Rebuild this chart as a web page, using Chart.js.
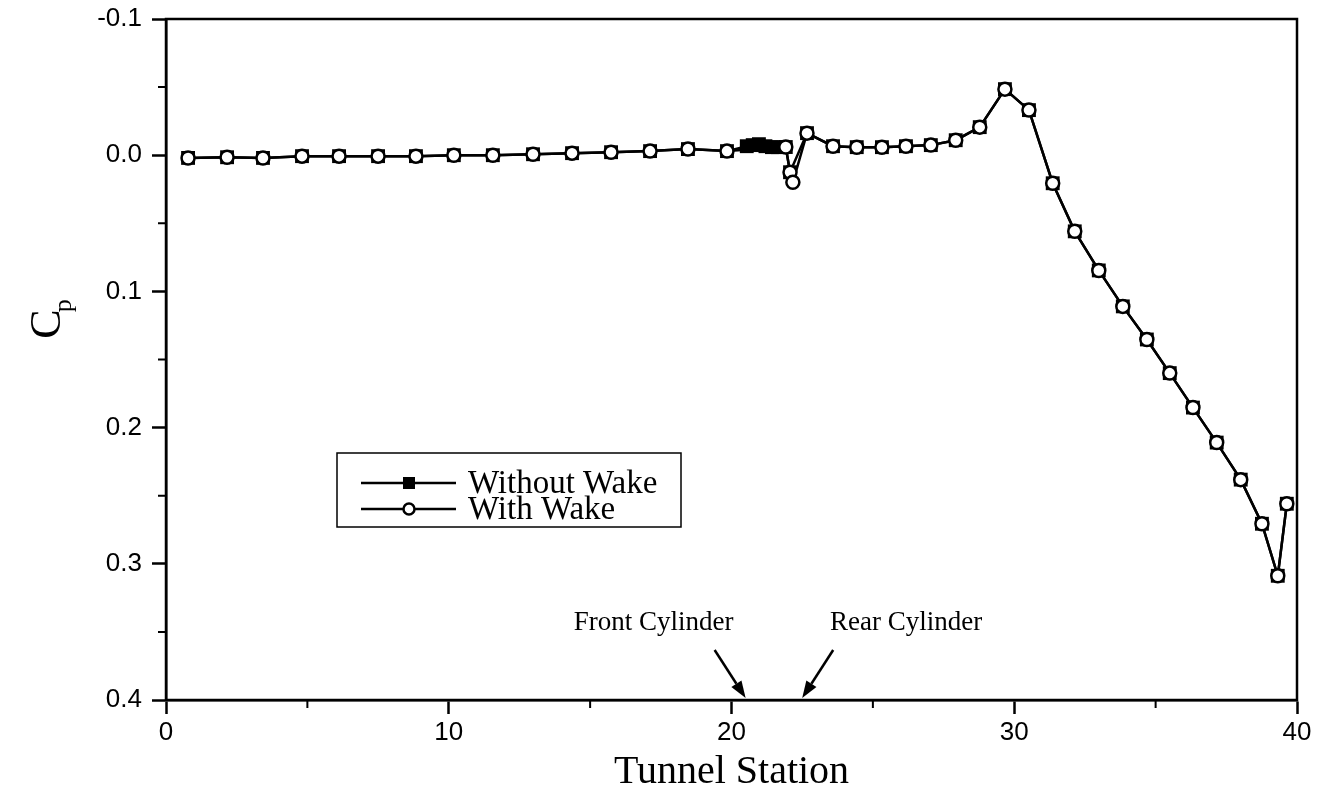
<!DOCTYPE html>
<html>
<head>
<meta charset="utf-8">
<title>Cp along tunnel</title>
<script src="https://cdn.jsdelivr.net/npm/chart.js@4.4.1/dist/chart.umd.min.js"></script>
<style>
  html, body { margin: 0; padding: 0; background: #fff; }
  #cpChart { display: block; }
</style>
</head>
<body>
<canvas id="cpChart" width="1317" height="805"></canvas>
<script>
// -------------------------------
// Data (tunnel station vs pressure coefficient)
// -------------------------------
const withWakeStations = [
  0.78, 2.16, 3.43, 4.81, 6.12, 7.50, 8.84, 10.18, 11.56, 12.98, 14.36, 15.74,
  17.12, 18.46, 19.84, 21.92, 22.07, 22.17, 22.67, 23.59, 24.43, 25.32, 26.17,
  27.05, 27.93, 28.78, 29.67, 30.52, 31.36, 32.14, 32.99, 33.84, 34.69, 35.50,
  36.32, 37.16, 38.01, 38.76, 39.32, 39.64
];
const withWakeCp = [
  0.002, 0.0015, 0.002, 0.0007, 0.0007, 0.0007, 0.0007, 0.0, 0.0, -0.0007,
  -0.0015, -0.0022, -0.003, -0.0045, -0.003, -0.006, 0.0125, 0.0199, -0.0162,
  -0.0066, -0.0059, -0.0059, -0.0066, -0.0074, -0.011, -0.0206, -0.0485,
  -0.0331, 0.0206, 0.0559, 0.0846, 0.111, 0.1353, 0.160, 0.1853, 0.211,
  0.2382, 0.2706, 0.3088, 0.2559
];

const withoutWakeStations = [
  0.78, 2.16, 3.43, 4.81, 6.12, 7.50, 8.84, 10.18, 11.56, 12.98, 14.36, 15.74,
  17.12, 18.46, 19.84, 20.54, 20.75, 20.97, 21.20, 21.43, 21.64, 21.92, 22.07,
  22.67, 23.59, 24.43, 25.32, 26.17, 27.05, 27.93, 28.78, 29.67, 30.52, 31.36,
  32.14, 32.99, 33.84, 34.69, 35.50, 36.32, 37.16, 38.01, 38.76, 39.32, 39.64
];
const withoutWakeCp = [
  0.002, 0.0015, 0.002, 0.0007, 0.0007, 0.0007, 0.0007, 0.0, 0.0, -0.0007,
  -0.0015, -0.0022, -0.003, -0.0045, -0.003, -0.0066, -0.0074, -0.0081,
  -0.0066, -0.0059, -0.0059, -0.006, 0.0125, -0.0162, -0.0066, -0.0059,
  -0.0059, -0.0066, -0.0074, -0.011, -0.0206, -0.0485, -0.0331, 0.0206,
  0.0559, 0.0846, 0.111, 0.1353, 0.160, 0.1853, 0.211, 0.2382, 0.2706,
  0.3088, 0.2559
];

const xMin = 0, xMax = 40, xStep = 10, xMinorStep = 5;
const yMin = -0.1, yMax = 0.4, yStep = 0.1, yMinorStep = 0.05;

const seriesNames = ["Without Wake", "With Wake"];
const cylinderLabels = ["Front Cylinder", "Rear Cylinder"];
const cylinderStations = [20.5, 22.5];

const SERIF = '"Liberation Serif", "Times New Roman", serif';
const SANS = '"Liberation Sans", Arial, sans-serif';
const NARROW = '"Liberation Sans Narrow", "Arial Narrow", "Liberation Sans", sans-serif';

const toPoints = (xs, ys) => xs.map((x, i) => ({ x, y: ys[i] }));

// -------------------------------
// Extra drawing: frame, minor ticks, legend, arrows, y title
// -------------------------------
const decorations = {
  id: "decorations",
  afterDraw(chart) {
    const { ctx, chartArea: a, scales } = chart;
    const xs = scales.x, ys = scales.y;
    ctx.save();
    ctx.strokeStyle = "#000";
    ctx.fillStyle = "#000";

    // closed frame
    ctx.lineWidth = 2.5;
    ctx.strokeRect(a.left, a.top, a.right - a.left, a.bottom - a.top);

    // minor ticks
    ctx.lineWidth = 2;
    ctx.beginPath();
    for (let v = xMin + xMinorStep; v < xMax; v += xStep) {
      const px = xs.getPixelForValue(v);
      ctx.moveTo(px, a.bottom);
      ctx.lineTo(px, a.bottom + 8);
    }
    for (let v = yMin + yMinorStep; v < yMax; v += yStep) {
      const py = ys.getPixelForValue(v);
      ctx.moveTo(a.left - 8, py);
      ctx.lineTo(a.left, py);
    }
    ctx.stroke();

    // legend box
    const lx = a.left + 171, ly = a.top + 434, lw = 344, lh = 74;
    ctx.lineWidth = 1.5;
    ctx.strokeRect(lx, ly, lw, lh);
    const rows = [ly + 30, ly + 56];
    ctx.font = `33px ${SERIF}`;
    ctx.textBaseline = "alphabetic";
    ctx.textAlign = "left";
    rows.forEach((ry, i) => {
      ctx.lineWidth = 2.5;
      ctx.beginPath();
      ctx.moveTo(lx + 24, ry);
      ctx.lineTo(lx + 119, ry);
      ctx.stroke();
      const mx = lx + 72;
      if (i === 0) {
        ctx.fillRect(mx - 6, ry - 6, 12, 12);
      } else {
        ctx.beginPath();
        ctx.arc(mx, ry, 5.5, 0, Math.PI * 2);
        ctx.fillStyle = "#fff";
        ctx.fill();
        ctx.lineWidth = 2.5;
        ctx.stroke();
        ctx.fillStyle = "#000";
      }
      ctx.fillText(seriesNames[i], lx + 131, ry + 10);
    });

    // cylinder arrows and labels
    const dirs = [-1, 1];
    ctx.font = `27px ${SERIF}`;
    ctx.textAlign = "center";
    ctx.textBaseline = "middle";
    cylinderStations.forEach((st, i) => {
      const tx = xs.getPixelForValue(st);
      const ty = ys.getPixelForValue(yMax) - 2;
      const sx = tx + dirs[i] * 31;
      const sy = ty - 48;
      const ang = Math.atan2(ty - sy, tx - sx);
      const hl = 17, hw = 6;
      const bx = tx - Math.cos(ang) * hl, by = ty - Math.sin(ang) * hl;
      ctx.lineWidth = 2.5;
      ctx.beginPath();
      ctx.moveTo(sx, sy);
      ctx.lineTo(bx, by);
      ctx.stroke();
      ctx.beginPath();
      ctx.moveTo(tx, ty);
      ctx.lineTo(bx - Math.sin(ang) * hw, by + Math.cos(ang) * hw);
      ctx.lineTo(bx + Math.sin(ang) * hw, by - Math.cos(ang) * hw);
      ctx.closePath();
      ctx.fill();
      const labelX = i === 0 ? tx - 92 : tx + 104;
      ctx.fillText(cylinderLabels[i], labelX, ty - 75);
    });

    // y axis title: C with subscript p
    ctx.translate(60, (a.top + a.bottom) / 2 - 42);
    ctx.rotate(-Math.PI / 2);
    ctx.textAlign = "left";
    ctx.textBaseline = "alphabetic";
    ctx.font = `44px ${SERIF}`;
    const cw = ctx.measureText("C").width;
    ctx.font = `26px ${SERIF}`;
    const pw = ctx.measureText("p").width;
    const start = -(cw + pw) / 2;
    ctx.font = `44px ${SERIF}`;
    ctx.fillText("C", start, 0);
    ctx.font = `26px ${SERIF}`;
    ctx.fillText("p", start + cw - 3, 11);
    ctx.restore();
  },
};

// -------------------------------
// Chart
// -------------------------------
new Chart(document.getElementById("cpChart"), {
  type: "scatter",
  data: {
    datasets: [
      {
        label: seriesNames[1],
        data: toPoints(withWakeStations, withWakeCp),
        showLine: true,
        borderColor: "#000",
        borderWidth: 2.5,
        pointStyle: "circle",
        pointRadius: 6.5,
        pointBorderWidth: 2.5,
        pointBackgroundColor: "#fff",
        pointBorderColor: "#000",
        tension: 0,
      },
      {
        label: seriesNames[0],
        data: toPoints(withoutWakeStations, withoutWakeCp),
        showLine: true,
        borderColor: "#000",
        borderWidth: 2.5,
        pointStyle: "rect",
        pointRadius: 9.8,
        pointBorderWidth: 0,
        pointBackgroundColor: "#000",
        tension: 0,
      },
    ],
  },
  options: {
    responsive: false,
    animation: false,
    devicePixelRatio: 1,
    layout: { padding: { top: 19, right: 20, left: 0, bottom: 0 } },
    plugins: {
      legend: { display: false },
      tooltip: { enabled: false },
    },
    scales: {
      x: {
        type: "linear",
        min: xMin,
        max: xMax,
        afterFit: (s) => {
          s.height = 105;
          s.paddingLeft = 0;
          s.paddingRight = 0;
        },
        border: { display: true, color: "#000", width: 2.5 },
        grid: {
          drawOnChartArea: false,
          drawTicks: true,
          tickLength: 14,
          tickWidth: 2.5,
          tickColor: "#000",
        },
        ticks: {
          stepSize: xStep,
          color: "#000",
          padding: 3,
          maxRotation: 0,
          font: { family: NARROW, size: 26 },
        },
        title: {
          display: true,
          text: "Tunnel Station",
          color: "#000",
          font: { family: SERIF, size: 40 },
          padding: { top: 0, bottom: 9 },
        },
      },
      y: {
        type: "linear",
        reverse: true,
        min: yMin,
        max: yMax,
        afterFit: (s) => {
          s.width = 166;
          s.paddingTop = 0;
          s.paddingBottom = 0;
        },
        border: { display: true, color: "#000", width: 2.5 },
        grid: {
          drawOnChartArea: false,
          drawTicks: true,
          tickLength: 14,
          tickWidth: 2.5,
          tickColor: "#000",
        },
        ticks: {
          stepSize: yStep,
          color: "#000",
          padding: 10,
          font: { family: SANS, size: 26 },
          callback: (v) => Number(v).toFixed(1),
        },
      },
    },
  },
  plugins: [decorations],
});
</script>
</body>
</html>
